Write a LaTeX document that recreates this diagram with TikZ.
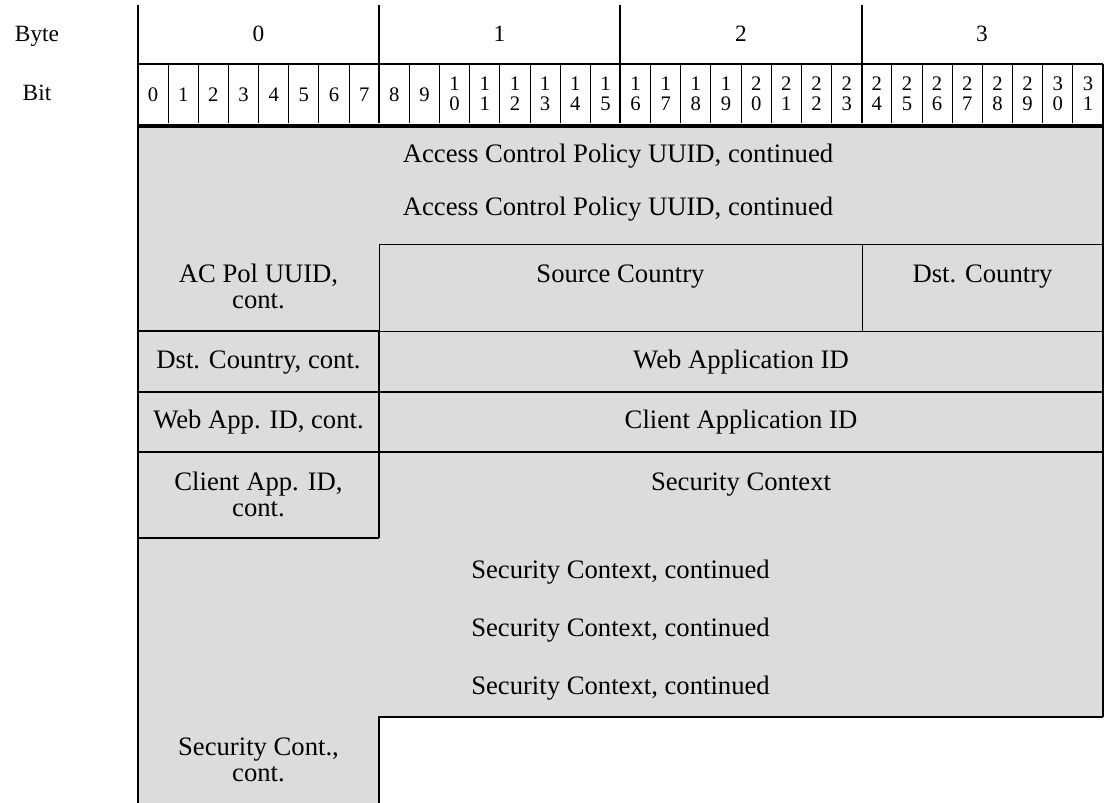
\documentclass[tikz,border=0pt]{standalone}
\usepackage{fontspec}
\setmainfont{Liberation Serif}
\definecolor{fieldgray}{HTML}{DCDCDC}
\begin{document}
\begin{tikzpicture}[x=0.75pt,y=-0.75pt,
  fld/.style={font=\fontsize{20}{20}\selectfont, anchor=base, inner sep=0pt},
  hdr/.style={font=\fontsize{17.5}{18}\selectfont, anchor=base, inner sep=0pt},
  bitlbl/.style={font=\fontsize{15.5}{15}\selectfont, anchor=base, inner sep=0pt},
  thickln/.style={line width=1.1pt},
  thinln/.style={line width=0.75pt},
  heavyln/.style={line width=3pt}]
\useasboundingbox (0,0) rectangle (1107,803);
% grey field area
\fill[fieldgray] (138,126) -- (1103,126) -- (1103,717) -- (379,717) -- (379,803) -- (138,803) -- cycle;
% header lines
\draw[thickln] (138,5) -- (138,803);
\foreach \xx in {379,620,862} \draw[thickln] (\xx,5) -- (\xx,123);
\draw[thickln] (138,64) -- (1103,64);
\draw[thickln] (1103,64) -- (1103,717);
\foreach \i in {1,...,31}{
  \pgfmathtruncatemacro{\m}{mod(\i,8)}
  \ifnum\m>0
    \draw[thinln] ({138+30.156*\i},64) -- ({138+30.156*\i},123);
  \fi
}
\draw[heavyln] (138,125.5) -- (1103,125.5);
% field lines
\draw[thinln] (379,244) -- (1103,244);
\draw[thinln] (379,244) -- (379,331);
\draw[thinln] (862,244) -- (862,331);
\draw[thinln] (379,331) -- (1103,331);
\draw[thickln] (138,331) -- (379,331);
\draw[thickln] (379,331) -- (379,538);
\draw[thickln] (138,392) -- (1103,392);
\draw[thickln] (138,452) -- (1103,452);
\draw[thickln] (138,538) -- (379,538);
\draw[thickln] (379,803) -- (379,717) -- (1103,717);
% header texts
\node[hdr] (byte) at (37,41) {Byte};
\node[hdr] (bit) at (37,100) {Bit};
\node[hdr] (by0) at (258.5,41.5) {0};
\node[hdr] (by1) at (499.5,41.5) {1};
\node[hdr] (by2) at (741,41.5) {2};
\node[hdr] (by3) at (982,41.5) {3};
\foreach \i in {0,...,31}{
  \pgfmathsetmacro{\cx}{138+30.156*(\i+0.5)}
  \ifnum\i<10
    \node[bitlbl] (b\i) at (\cx,101) {\i};
  \else
    \pgfmathtruncatemacro{\tens}{int(\i/10)}
    \pgfmathtruncatemacro{\units}{mod(\i,10)}
    \node[bitlbl] (b\i t) at (\cx,90) {\tens};
    \node[bitlbl] (b\i u) at (\cx,110) {\units};
  \fi
}
% field texts
\node[fld] (acp1) at (618,162) {Access Control Policy UUID, continued};
\node[fld] (acp2) at (618,215) {Access Control Policy UUID, continued};
\node[fld] (acpc1) at (258.5,282) {AC Pol UUID,};
\node[fld] (acpc2) at (258.5,308) {cont.};
\node[fld] (src) at (620.5,282) {Source Country};
\node[fld] (dst) at (982.5,282) {Dst. Country};
\node[fld] (dstc) at (258.5,368) {Dst. Country, cont.};
\node[fld] (web) at (741,368) {Web Application ID};
\node[fld] (webc) at (258.5,428) {Web App. ID, cont.};
\node[fld] (cli) at (741,428) {Client Application ID};
\node[fld] (clic1) at (258.5,490) {Client App. ID,};
\node[fld] (clic2) at (258.5,516.5) {cont.};
\node[fld] (sec) at (741,490) {Security Context};
\node[fld] (secc1) at (620.5,578) {Security Context, continued};
\node[fld] (secc2) at (620.5,636) {Security Context, continued};
\node[fld] (secc3) at (620.5,694) {Security Context, continued};
\node[fld] (secl1) at (258.5,755) {Security Cont.,};
\node[fld] (secl2) at (258.5,781) {cont.};
\end{tikzpicture}
\end{document}
